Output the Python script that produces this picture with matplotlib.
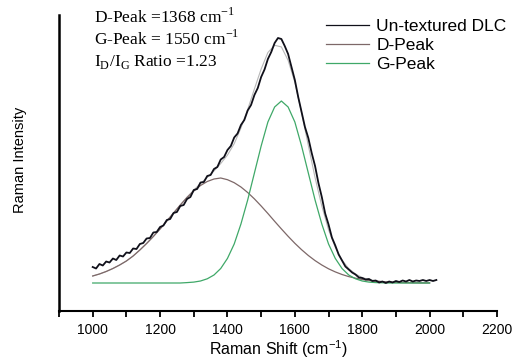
import numpy as np
import matplotlib
matplotlib.use("Agg")
import matplotlib.pyplot as plt

# ---- data ----
data_shift = list(range(1000, 2021, 10))
data_intensity = [
    16, 14.5, 19, 17.5, 21.5, 20.5, 24.5, 23, 27.5, 26.5,
    30.5, 30, 34.5, 34, 39, 40, 44.5, 45, 50.5, 51,
    56, 57.5, 63, 64, 70, 71, 77, 78, 84, 86,
    93, 94, 100.5, 101, 107, 108, 114, 116, 123.5, 126,
    133, 137, 145.5, 149.5, 158, 163, 172.5, 178, 188, 195,
    206, 213.5, 224, 231, 240, 245, 244, 237, 229, 216,
    203, 186, 171, 156, 145, 130, 117, 100, 86, 69.5,
    58.5, 45.5, 37.5, 28.5, 22.5, 16.5, 13.5, 10.5, 8.5, 5.5,
    5, 3.5, 4, 2, 2.5, 0.5, 1.5, 0, 1.5, 0.5,
    2, 1, 2.5, 1.5, 3, 1.5, 2.5, 2, 3, 2,
    3, 2, 3,
]

fit_shift = list(range(1000, 2001, 20))
d_peak = [
    7, 9, 11.5, 14.5, 18, 22, 27, 33, 39.5, 46.5,
    54, 62, 70, 78, 85.5, 92, 97.5, 101.5, 104, 105,
    103.3, 100.3, 96, 90.5, 84.1, 77, 69.5, 61.7, 54.1, 46.7,
    39.7, 33.3, 27.5, 22.4, 18, 14.2, 11.1, 8.5, 6.4, 4.8,
    3.5, 2.5, 1.8, 1.3, 0.9, 0.6, 0.4, 0.3, 0.2, 0.1,
    0.1,
]
g_peak = [
    0, 0, 0, 0, 0, 0, 0, 0, 0, 0, 0, 0, 0, 0,
    0.4, 0.9, 2.0, 4.2, 8.0, 14.5, 24.6, 39, 59, 83,
    110, 137, 161, 176, 182, 176, 161, 137, 110, 83,
    59, 39, 24.6, 14.5, 8.0, 4.2, 2.0, 0.9, 0.4, 0.2,
    0, 0, 0, 0, 0, 0, 0,
]

series_labels = ["Un-textured DLC", "D-Peak", "G-Peak"]
x_ticks = [1000, 1200, 1400, 1600, 1800, 2000, 2200]

# ---- figure ----
W, H = 529, 362
fig = plt.figure(figsize=(W / 100, H / 100), dpi=100)
ax = fig.add_axes([59 / W, 1 - 311 / H, (497 - 59) / W, (311 - 15) / H])

fit_sum = np.array(d_peak) + np.array(g_peak)
ax.plot(fit_shift, fit_sum, color="#b8b8b8", lw=0.8, zorder=2)
l1, = ax.plot(data_shift, data_intensity, color="#10101a", lw=1.3, zorder=3)
l2, = ax.plot(fit_shift, d_peak, color="#7d6868", lw=0.9, zorder=2)
l3, = ax.plot(fit_shift, g_peak, color="#3fa868", lw=0.9, zorder=2)

ax.set_xlim(900, 2200)
ax.set_ylim(-28, 268)
ax.set_xticks(x_ticks)
ax.set_xticklabels([str(t) for t in x_ticks], fontfamily="Liberation Sans", fontsize=10)
ax.set_xticks(list(range(900, 2201, 100)), minor=True)
ax.tick_params(axis="x", which="both", direction="out", length=4, width=1.3, pad=5)
ax.set_yticks([])
for s in ["top", "right"]:
    ax.spines[s].set_visible(False)
ax.spines["left"].set_linewidth(1.8)
ax.spines["bottom"].set_linewidth(1.5)

fig.text(278 / W, 1 - 355 / H, "Raman Shift (cm$^{\\mathregular{-1}}$)", ha="center", va="baseline",
         fontfamily="Liberation Sans", fontsize=11.5)
fig.text(20 / W, 1 - 160 / H, "Raman Intensity", rotation=90, ha="center", va="center",
         fontfamily="Liberation Sans", fontsize=10.5)

# annotations (serif)
ann_kw = dict(fontfamily="Liberation Serif", fontsize=12.5, ha="left", va="baseline")
fig.text(94 / W, 1 - 23 / H, "D-Peak =1368 cm$^{\\mathregular{-1}}$", **ann_kw)
fig.text(94 / W, 1 - 45 / H, "G-Peak = 1550 cm$^{\\mathregular{-1}}$", **ann_kw)
fig.text(94 / W, 1 - 66 / H, "I$_\\mathregular{D}$/I$_\\mathregular{G}$ Ratio =1.23", **ann_kw)

leg = ax.legend([l1, l2, l3], series_labels, loc="upper left",
                bbox_to_anchor=(326 / W, 1 - 19 / H), bbox_transform=fig.transFigure,
                frameon=False, prop={"family": "Liberation Sans", "size": 12.5},
                handlelength=2.5, handletextpad=0.4, labelspacing=0.22, borderaxespad=0,
                borderpad=0)
for line in leg.get_lines():
    line.set_linewidth(0.9)

fig.savefig("out.png", dpi=100)
